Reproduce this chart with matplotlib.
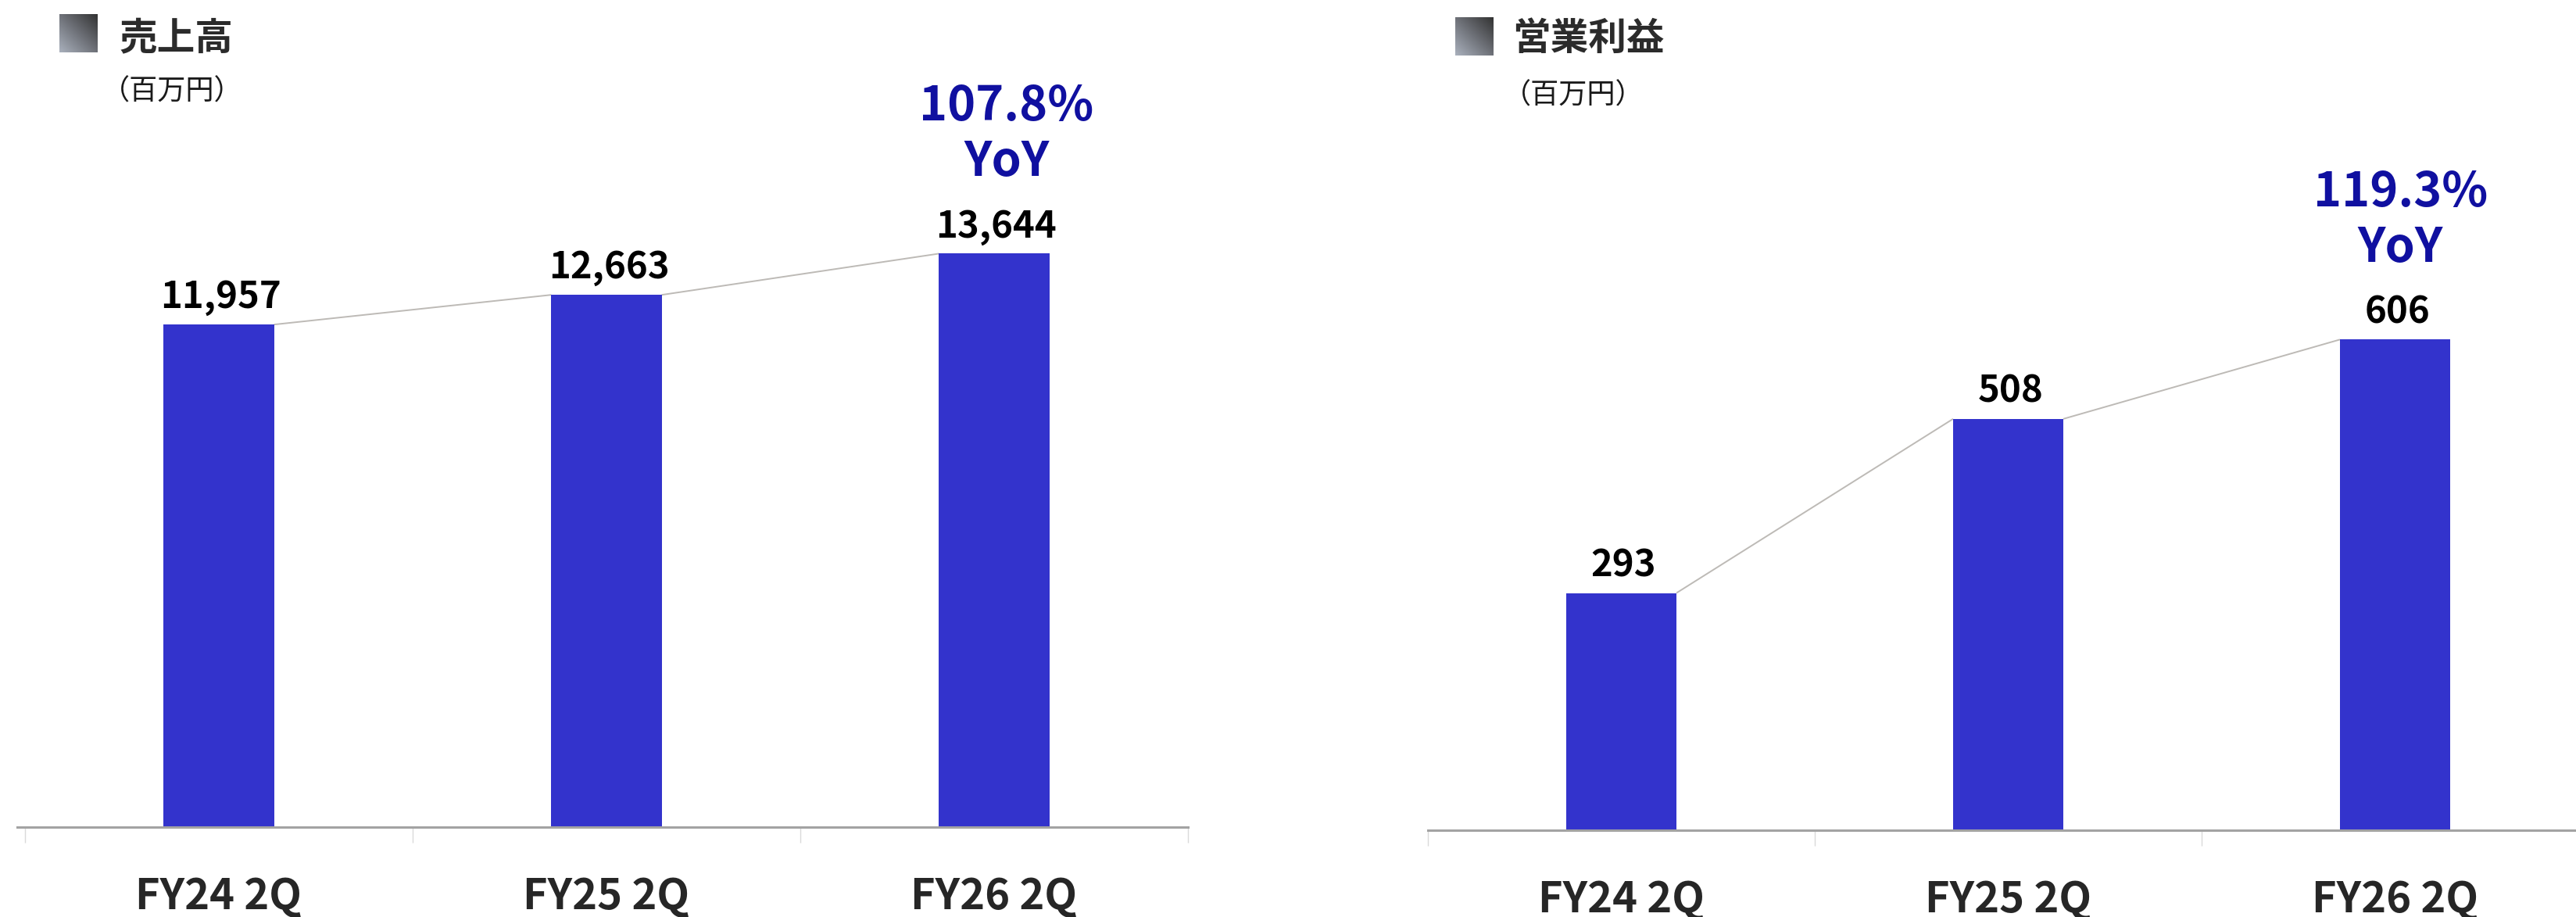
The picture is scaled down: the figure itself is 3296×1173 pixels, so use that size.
import matplotlib
matplotlib.use('Agg')
import matplotlib.pyplot as plt
import numpy as np
from matplotlib.colors import LinearSegmentedColormap

plt.rcParams['font.family'] = ['Noto Sans CJK JP', 'DejaVu Sans']

# data
categories = ['FY24 2Q', 'FY25 2Q', 'FY26 2Q']
sales = [11957, 12663, 13644]
profit = [293, 508, 606]
titles = ['売上高', '営業利益']
unit = '（百万円）'
yoy_sales = '107.8%'
yoy_profit = '119.3%'

W, H = 3296, 1173
fig = plt.figure(figsize=(W / 100, H / 100), dpi=100)

BAR = '#3333CC'
YOY = '#1010A0'
grad = LinearSegmentedColormap.from_list('g', ['#A9B0BC', '#6E7178', '#333333'])


def box(x0, y0, x1, y1):
    # pixel box (top-left origin) -> figure fraction rect
    return [x0 / W, 1 - y1 / H, (x1 - x0) / W, (y1 - y0) / H]


def header(sq, tx, ty, ux, uy, title):
    a = fig.add_axes(box(*sq), zorder=5)
    xx, yy = np.meshgrid(np.linspace(0, 1, 60), np.linspace(0, 1, 60))
    a.imshow((xx + yy) / 2, cmap=grad, origin='lower', extent=(0, 1, 0, 1), aspect='auto')
    a.axis('off')
    fig.text(tx / W, 1 - ty / H, title, fontsize=35, weight='bold', color='#2B2B2B',
             ha='left', va='baseline')
    fig.text(ux / W, 1 - uy / H, unit, fontsize=26, color='#1A1A1A', ha='left', va='baseline')


def panel(rect, ymax, xlo, values, yoy, yoy_dx):
    ax = fig.add_axes(rect)
    ax.patch.set_visible(False)
    x = np.arange(len(values))
    w = 0.285
    ax.bar(x, values, width=w, color=BAR, zorder=2)
    for i in range(len(values) - 1):
        ax.plot([x[i] + w / 2, x[i + 1] - w / 2], [values[i], values[i + 1]],
                color='#BDBAB6', lw=1.4, zorder=1, solid_capstyle='butt')
    ax.set_xlim(xlo, 2.5)
    ax.set_ylim(0, ymax)
    for s in ['top', 'right', 'left']:
        ax.spines[s].set_visible(False)
    ax.spines['bottom'].set_color('#A3A3A3')
    ax.spines['bottom'].set_linewidth(2.2)
    ax.set_yticks([])
    ax.set_xticks([-0.5, 0.5, 1.5, 2.5])
    ax.tick_params(axis='x', direction='out', length=14.5, width=1, color='#DADADA',
                   labelbottom=False)
    for i, v in enumerate(values):
        ax.annotate(f'{v:,}', xy=(x[i], v), xytext=(3, 21), textcoords='offset pixels',
                    ha='center', va='baseline', fontsize=34, weight='bold', color='black')
        ax.annotate(categories[i], xy=(x[i], 0), xycoords=('data', 'axes fraction'),
                    xytext=(0, -105), textcoords='offset pixels', ha='center',
                    va='baseline', fontsize=39, weight='bold', color='#262626',
                    annotation_clip=False)
    ax.annotate(yoy, xy=(x[-1], values[-1]), xytext=(yoy_dx, 170), textcoords='offset pixels',
                ha='center', va='baseline', fontsize=44, weight='bold', color=YOY)
    ax.annotate('YoY', xy=(x[-1], values[-1]), xytext=(yoy_dx, 99), textcoords='offset pixels',
                ha='center', va='baseline', fontsize=44, weight='bold', color=YOY)
    return ax


header((76, 18, 125, 67), 152, 64, 130, 128, titles[0])
header((1862, 22, 1911, 71), 1935, 64, 1923, 133, titles[1])

panel(box(22, 0, 1520, 1058), 1058 * 18.6, -0.52, sales, yoy_sales, 16)
panel(box(1827, 0, 1827 + 3 * 495, 1062), 1062 * 0.9655, -0.5, profit, yoy_profit, 7)

fig.savefig('out.png', dpi=100, facecolor='white')
